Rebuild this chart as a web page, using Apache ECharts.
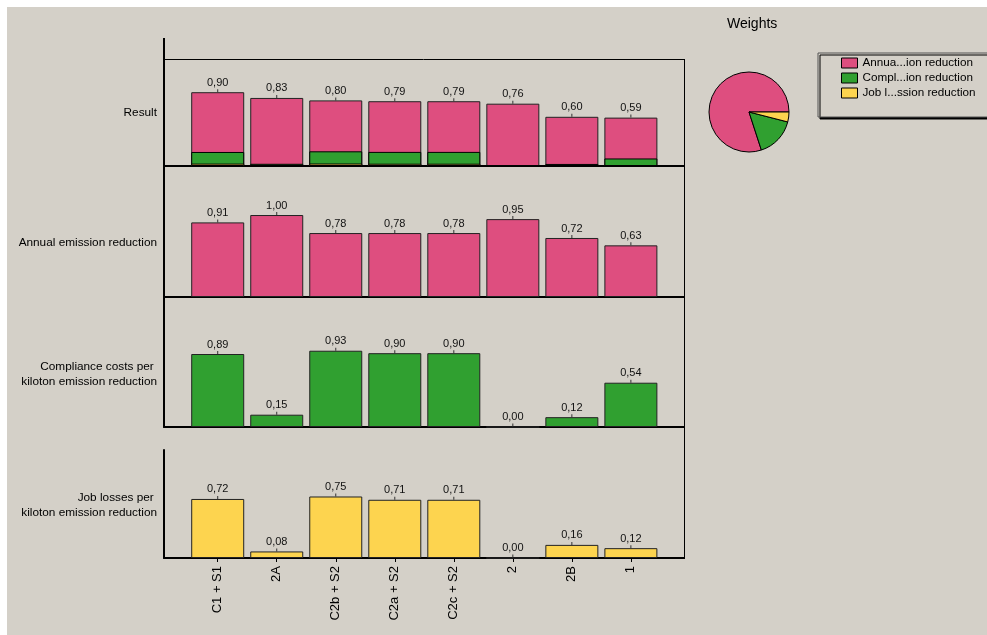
<!DOCTYPE html>
<html>
<head>
<meta charset="utf-8">
<title>Weighted criteria scores</title>
<script src="https://cdn.jsdelivr.net/npm/echarts@6/dist/echarts.min.js"></script>
<style>
  html, body { margin: 0; padding: 0; background: #ffffff; }
  #chart { width: 987px; height: 635px; }
</style>
</head>
<body>
<div id="chart"></div>
<script>
// Alternatives compared on each criterion
const categories = ['C1 + S1', '2A', 'C2b + S2', 'C2a + S2', 'C2c + S2', '2', '2B', '1'];

// Criterion scores (0..1)
const annualValues     = [0.91, 1.00, 0.78, 0.78, 0.78, 0.95, 0.72, 0.63];
const complianceValues = [0.89, 0.15, 0.93, 0.90, 0.90, 0.00, 0.12, 0.54];
const jobValues        = [0.72, 0.08, 0.75, 0.71, 0.71, 0.00, 0.16, 0.12];

// Overall result and the weighted contributions of the two smaller criteria
const resultTotals         = [0.90, 0.83, 0.80, 0.79, 0.79, 0.76, 0.60, 0.59];
const resultCompliancePart = [0.142, 0.024, 0.149, 0.144, 0.144, 0.000, 0.019, 0.087];
const resultJobPart        = [0.029, 0.003, 0.030, 0.028, 0.028, 0.000, 0.006, 0.005];

// Criteria, their weights and shortened legend captions
const criteriaNames = [
  'Annual emission reduction',
  'Compliance costs per kiloton emission reduction',
  'Job losses per kiloton emission reduction'
];
const legendCaptions = ['Annua...ion reduction', 'Compl...ion reduction', 'Job l...ssion reduction'];
const weights = [0.80, 0.16, 0.04];

// Row titles on the left of each panel
const rowTitles = [
  ['Result'],
  ['Annual emission reduction'],
  ['Compliance costs per ', 'kiloton emission reduction'],
  ['Job losses per ', 'kiloton emission reduction']
];

const PINK = '#de4e7f', GREEN = '#30a030', YELLOW = '#fdd44f';
const criteriaColors = [PINK, GREEN, YELLOW];
const FONT = '"Liberation Sans", Arial, sans-serif';
const BG = '#d4d0c8';

const fmt = v => v.toFixed(2).replace('.', ',');
const pairs = arr => arr.map((v, i) => [i, v]);

function valueLabel(getText) {
  return {
    show: true,
    position: 'top',
    distance: 0,
    formatter: p => '{v|' + getText(p) + '}\n{t|}',
    rich: {
      v: { fontSize: 11, fontFamily: FONT, color: '#111', lineHeight: 13, align: 'center' },
      t: { width: 1, height: 3, lineHeight: 3, backgroundColor: '#333', align: 'center' }
    }
  };
}

function bar(extra, color, edge) {
  return Object.assign({
    type: 'bar',
    barWidth: 53,
    barGap: '-100%',
    silent: true,
    itemStyle: { color: color, borderColor: edge || '#222', borderWidth: 1 }
  }, extra);
}

// Panel geometry: grids share the horizontal extent; "drop" lowers the row title
const panels = [
  { top: 59,  height: 107, max: 1.305, drop: 0 },
  { top: 166, height: 131, max: 1.598, drop: 22 },
  { top: 297, height: 130, max: 1.585, drop: 24 },
  { top: 450, height: 108, max: 1.317, drop: 2 }
];

const grids = panels.map(p => ({ left: 164, width: 520, top: p.top, height: p.height }));

const xAxes = panels.map((p, i) => {
  const last = i === panels.length - 1;
  const ticks = categories.map((c, k) => k);
  return {
    type: 'value',
    gridIndex: i,
    min: -0.91,
    max: 7.9,
    axisLine: { show: true, onZero: false, lineStyle: { color: '#000', width: 2 } },
    splitLine: { show: false },
    axisTick: last
      ? { show: true, customValues: ticks, length: 4, inside: false, lineStyle: { color: '#000', width: 1 } }
      : { show: false },
    axisLabel: last
      ? { show: true, customValues: ticks, rotate: 90, margin: 8, fontSize: 13, fontFamily: FONT,
          color: '#000', formatter: v => categories[Math.round(v)] }
      : { show: false }
  };
});

const yAxes = panels.map((p, i) => ({
  type: 'value',
  gridIndex: i,
  min: 0,
  max: p.max,
  name: (p.drop ? '{gap|}\n' : '') + rowTitles[i].map(s => '{t|' + s + '}').join('\n'),
  nameLocation: 'middle',
  nameRotate: 0,
  nameGap: 7,
  nameTextStyle: {
    align: 'right',
    verticalAlign: 'middle',
    rich: {
      gap: { lineHeight: p.drop, height: p.drop, align: 'right' },
      t: { fontSize: 11.8, fontFamily: FONT, color: '#000', lineHeight: 15, align: 'right' }
    }
  },
  axisLine: { show: true, onZero: false, lineStyle: { color: '#000', width: 2 } },
  axisTick: { show: false },
  axisLabel: { show: false },
  splitLine: { show: false }
}));

// Green reaches up to the top of the two smaller contributions
const resultLowerTop = resultJobPart.map((v, i) => v + resultCompliancePart[i]);

const series = [
  // Result: total bar, with the lower contributions laid over its base
  bar({ name: 'result-total', xAxisIndex: 0, yAxisIndex: 0, data: pairs(resultTotals),
        label: valueLabel(p => fmt(p.value[1])) }, PINK),
  bar({ name: 'result-compliance', xAxisIndex: 0, yAxisIndex: 0, data: pairs(resultLowerTop) }, GREEN, '#000'),
  bar({ name: 'result-jobs', xAxisIndex: 0, yAxisIndex: 0, data: pairs(resultJobPart) }, YELLOW, '#000'),
  // Individual criteria
  bar({ name: 'annual', xAxisIndex: 1, yAxisIndex: 1, data: pairs(annualValues),
        label: valueLabel(p => fmt(p.value[1])) }, PINK),
  bar({ name: 'compliance', xAxisIndex: 2, yAxisIndex: 2, data: pairs(complianceValues),
        label: valueLabel(p => fmt(p.value[1])) }, GREEN),
  bar({ name: 'jobs', xAxisIndex: 3, yAxisIndex: 3, data: pairs(jobValues),
        label: valueLabel(p => fmt(p.value[1])) }, YELLOW),
  // Criteria weights
  {
    type: 'pie',
    name: 'Weights',
    center: [749, 112],
    radius: 40,
    startAngle: 0,
    clockwise: false,
    silent: true,
    label: { show: false },
    labelLine: { show: false },
    itemStyle: { borderColor: '#000', borderWidth: 1 },
    data: criteriaNames.map((n, i) => ({ name: n, value: weights[i], itemStyle: { color: criteriaColors[i] } }))
  }
];

const chart = echarts.init(document.getElementById('chart'), null, { renderer: 'canvas' });
chart.setOption({
  animation: false,
  backgroundColor: BG,
  title: {
    text: 'Weights',
    left: 727,
    top: 17,
    padding: 0,
    textStyle: { fontSize: 14, fontWeight: 'normal', color: '#000', fontFamily: FONT }
  },
  legend: {
    orient: 'vertical',
    left: 818,
    top: 53,
    data: criteriaNames,
    formatter: name => legendCaptions[criteriaNames.indexOf(name)],
    icon: 'rect',
    itemWidth: 16,
    itemHeight: 10,
    itemGap: 3,
    selectedMode: false,
    padding: [4, 200, 18, 23],
    backgroundColor: BG,
    borderColor: '#555',
    borderWidth: 1,
    shadowColor: '#000',
    shadowBlur: 0,
    shadowOffsetX: 2,
    shadowOffsetY: 2,
    itemStyle: { borderColor: '#000', borderWidth: 1 },
    textStyle: { fontSize: 11.7, lineHeight: 12, color: '#000', fontFamily: FONT }
  },
  grid: grids,
  xAxis: xAxes,
  yAxis: yAxes,
  series: series,
  graphic: [
    // window margins
    { type: 'rect', shape: { x: 0, y: 0, width: 987, height: 7 }, style: { fill: '#ffffff' }, silent: true, z: 100 },
    { type: 'rect', shape: { x: 0, y: 0, width: 7, height: 635 }, style: { fill: '#ffffff' }, silent: true, z: 100 },
    // panel frame: top edge, right edge and the raised left rule
    { type: 'line', shape: { x1: 163, y1: 59.5, x2: 684, y2: 59.5 }, style: { stroke: '#000', lineWidth: 1 }, silent: true },
    { type: 'line', shape: { x1: 684.5, y1: 59, x2: 684.5, y2: 559 }, style: { stroke: '#000', lineWidth: 1 }, silent: true },
    { type: 'line', shape: { x1: 164, y1: 38, x2: 164, y2: 60 }, style: { stroke: '#000', lineWidth: 2 }, silent: true }
  ]
});
</script>
</body>
</html>
